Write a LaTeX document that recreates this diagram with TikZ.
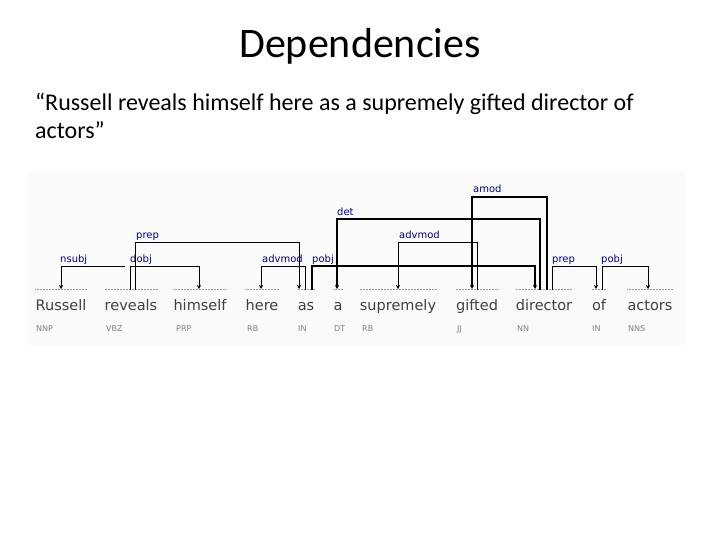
\documentclass[tikz,border=0pt]{standalone}
\usepackage{fontspec}
\usetikzlibrary{arrows.meta}
\setmainfont{Carlito}
\newfontfamily\dv{DejaVu Sans}
\begin{document}
\begin{tikzpicture}[x=1pt,y=-1pt,
  word/.style={font=\dv\fontsize{14.5}{16}\selectfont,text=black!75,inner sep=0,anchor=base},
  tag/.style={font=\dv\fontsize{8}{9}\selectfont,text=black!50,inner sep=0,anchor=base west},
  lab/.style={font=\dv\fontsize{10}{11}\selectfont,text=blue!55!black,inner sep=0,anchor=base west},
  arc/.style={line width=0.9pt,-{Stealth[length=4pt,width=4pt]}},
  tarc/.style={line width=1.8pt,-{Stealth[length=4pt,width=4pt]}},
  dots/.style={densely dotted,black!40,line width=0.5pt}]
\useasboundingbox (0,0) rectangle (720,540);
\fill[black!2] (28,172) rectangle (685,345);
\node[font=\fontsize{42}{48}\selectfont] (title) at (360,46) {Dependencies};
\node[font=\fontsize{24}{28}\selectfont,anchor=base west,inner sep=0] (l1) at (35,111) {“Russell reveals himself here as a supremely gifted director of};
\node[font=\fontsize{24}{28}\selectfont,anchor=base west,inner sep=0] (l2) at (35,139) {actors”};
% words
\foreach \n/\x/\w/\t/\tx in {ru/61/Russell/NNP/36, rv/131/reveals/VBZ/106, hi/200/himself/PRP/176, he/262/here/RB/247, as/306/as/IN/298, a/338/a/DT/334, su/398/supremely/RB/362, gi/477/gifted/JJ/457, di/544/director/NN/517, of/599/of/IN/592, ac/650/actors/NNS/628}{
  \node[word] (\n) at (\x,310) {\w};
  \node[tag] (\n t) at (\tx,331) {\t};
  \draw[dots] (\n.west|-0,289) -- (\n.east|-0,289);
}
\draw[arc] (125,266) -- (61,266) -- (61,289);
\node[lab] (l-nsubj) at (60,262) {nsubj};
\draw[arc] (130,290) -- (130,266) -- (199,266) -- (199,289);
\node[lab] (l-dobj) at (130,262) {dobj};
\draw[arc] (135,290) -- (135,242) -- (299,242) -- (299,289);
\node[lab] (l-prep) at (136,239) {prep};
\draw[arc] (305,290) -- (305,266) -- (261,266) -- (261,289);
\node[lab] (l-advmod) at (262,262) {advmod};
\draw[tarc] (312,290) -- (312,266) -- (535,266) -- (535,289);
\node[lab] (l-pobj) at (312,262) {pobj};
\draw[tarc] (540,290) -- (540,219) -- (337,219) -- (337,289);
\node[lab] (l-det) at (337,215) {det};
\draw[arc] (477,290) -- (477,242) -- (398,242) -- (398,289);
\node[lab] (l-advmod2) at (399,239) {advmod};
\draw[tarc] (547,290) -- (547,197) -- (472,197) -- (472,289);
\node[lab] (l-amod) at (473,193) {amod};
\draw[arc] (552,290) -- (552,266) -- (596,266) -- (596,289);
\node[lab] (l-prep2) at (552,262) {prep};
\draw[arc] (602,290) -- (602,266) -- (648,266) -- (648,289);
\node[lab] (l-pobj2) at (601,262) {pobj};
\end{tikzpicture}
\end{document}
